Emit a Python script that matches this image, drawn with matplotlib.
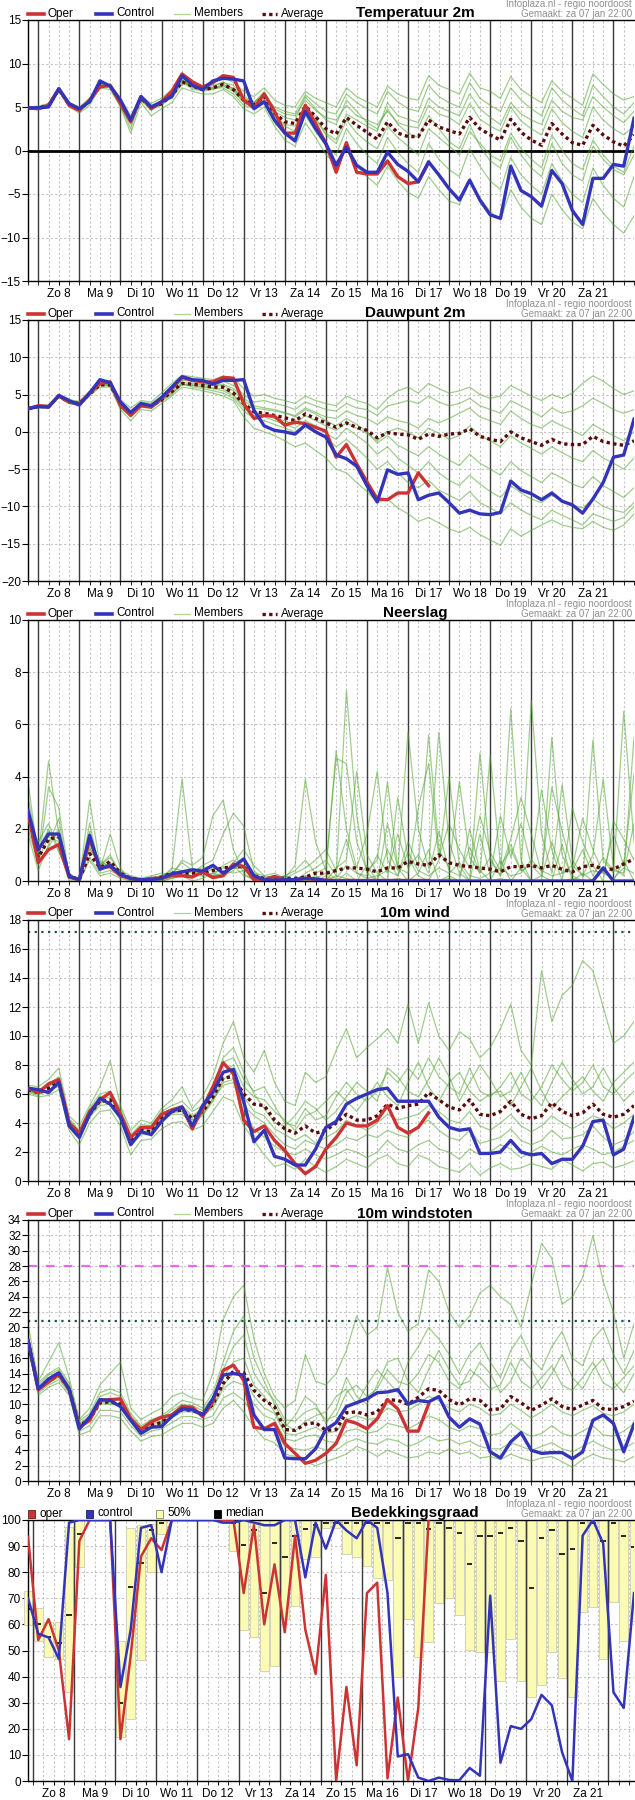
import numpy as np
import matplotlib.pyplot as plt
from matplotlib.lines import Line2D
from matplotlib.patches import Rectangle

plt.rcParams['font.family'] = ['Liberation Sans Narrow', 'Liberation Sans', 'DejaVu Sans']

W, H = 635, 1800
days = ['Zo 8', 'Ma 9', 'Di 10', 'Wo 11', 'Do 12', 'Vr 13', 'Za 14',
        'Zo 15', 'Ma 16', 'Di 17', 'Wo 18', 'Do 19', 'Vr 20', 'Za 21']
hours = np.arange(60) * 6

# ---- Temperatuur 2m
t_oper = [4.9,4.8,5.2,7.1,5.2,4.6,5.8,7.3,7.5,5.4, 3.3,6.2,4.8,5.6,6.8,8.8,7.9,7.3,7.8,8.6,
          8.4,5.8,4.9,6.5,4.5,2.0,2.0,5.2,3.1,0.8, -2.5,0.9,-2.5,-2.7,-2.7,-1.2,-3.0,-3.8,-3.6,-1.4]
t_ctrl = [4.9,4.9,5.0,7.1,5.4,4.8,5.6,8.0,7.4,5.8, 3.5,6.2,5.0,5.6,6.2,8.6,7.5,7.0,8.0,8.3,
          8.2,8.0,4.8,5.6,3.5,2.0,1.1,4.5,2.5,0.8, -1.7,0.4,-1.7,-2.5,-2.5,-0.2,-1.6,-2.4,-3.6,-1.3,
          -2.8,-4.4,-5.7,-3.4,-5.7,-7.4,-7.8,-1.8,-4.6,-5.3, -6.4,-2.3,-3.8,-6.9,-8.5,-3.2,-3.2,-1.6,-1.8,3.7]
t_avg = [4.9,4.9,5.2,7.0,5.3,4.7,5.7,7.6,7.4,5.6, 3.4,6.0,4.9,5.4,6.3,7.9,7.4,7.0,7.2,7.6,
         7.0,5.8,5.2,6.2,4.3,3.3,3.1,5.1,3.9,2.5, 1.9,3.8,2.9,2.1,1.3,3.3,2.0,1.6,1.6,3.5,
         2.7,2.3,1.9,3.8,2.5,1.8,1.2,3.6,2.1,1.2, 0.6,3.1,1.9,0.9,0.6,2.9,1.8,1.0,0.5,1.8]
t_mem = [
    [5.0,5.1,5.4,7.2,5.5,5.0,6.0,7.8,7.6,6.0, 4.0,6.3,5.4,6.0,7.0,8.8,7.9,7.4,7.8,8.5,
     7.8,6.8,6.2,7.2,5.8,5.2,5.0,6.8,6.0,5.5, 5.0,7.2,6.2,5.6,5.0,7.4,6.5,6.0,5.8,8.6,
     7.5,7.0,6.5,8.9,7.2,6.8,6.0,8.5,7.0,6.2, 5.5,8.0,6.8,6.0,5.2,8.8,7.6,6.5,5.8,6.2],
    [4.8,4.7,5.0,6.8,5.0,4.3,5.2,7.2,7.0,5.0, 2.0,5.5,4.0,4.8,5.5,7.2,6.8,6.5,6.5,7.0,
     6.2,4.8,4.2,5.0,2.8,1.2,0.5,3.2,1.5,-0.5, -1.5,0.5,-1.8,-3.0,-4.0,-1.8,-3.5,-4.8,-5.5,-3.0,
     -4.5,-5.8,-6.2,-3.5,-5.5,-7.0,-8.0,-4.5,-6.5,-7.8, -8.5,-5.0,-6.8,-8.2,-9.0,-5.5,-7.2,-8.5,-9.5,-7.5],
    [4.9,5.0,5.3,7.1,5.2,4.6,5.8,8.0,7.3,5.4, 3.0,6.2,5.0,5.2,6.6,8.2,7.2,7.2,7.5,7.8,
     7.5,6.0,5.5,6.8,4.5,3.8,3.5,6.2,4.8,3.5, 3.0,5.8,4.5,3.2,2.5,4.8,3.0,2.0,1.5,4.0,
     2.5,1.0,0.2,3.0,0.5,-1.2,-2.0,1.5,-0.5,-2.0, -3.0,0.8,-1.5,-2.8,-3.5,0.5,-1.0,-2.2,-2.8,-0.5],
    [4.8,4.8,5.1,6.9,5.4,4.9,5.5,7.4,7.6,5.8, 3.8,5.8,4.6,5.6,6.0,7.6,7.5,6.8,7.0,7.4,
     6.8,5.5,5.0,5.8,3.8,2.8,2.2,4.8,3.5,2.0, 1.2,4.2,3.5,2.8,2.2,5.5,4.0,3.6,3.2,6.0,
     5.0,4.5,4.0,6.5,4.8,3.8,3.0,5.5,4.2,3.5, 3.0,5.8,4.5,3.8,3.5,6.2,5.0,4.0,3.2,4.5],
    [5.0,4.9,5.2,7.0,5.1,4.5,6.0,7.6,7.2,5.2, 2.5,6.0,5.2,5.5,6.8,8.0,7.0,6.9,7.2,7.2,
     6.5,5.2,4.8,5.5,3.2,2.0,1.5,4.0,2.2,0.5, -0.5,2.5,0.8,-0.5,-1.5,1.5,-0.2,-1.5,-2.5,0.8,
     -1.0,-2.2,-3.0,0.2,-1.8,-3.5,-4.5,-0.8,-2.8,-4.0, -5.0,-1.5,-3.5,-5.0,-6.0,-2.0,-4.0,-5.5,-6.5,-3.0],
    [4.9,5.0,5.2,7.2,5.3,4.8,5.6,7.5,7.5,5.7, 3.6,6.1,4.8,5.2,6.2,7.8,7.5,7.1,7.2,7.5,
     7.2,5.9,5.4,6.5,4.8,4.2,4.0,5.8,4.6,3.8, 3.5,5.2,4.0,3.5,3.0,4.5,3.2,2.8,2.6,5.2,
     4.2,3.8,3.0,5.4,3.6,2.8,2.2,5.0,3.4,2.5, 1.8,4.8,3.2,2.2,1.5,5.0,3.5,2.5,1.8,2.8],
    [4.8,4.9,5.3,7.1,5.4,4.7,5.9,7.9,7.4,5.5, 3.2,6.0,4.9,5.4,6.4,8.4,7.6,7.0,7.3,7.9,
     7.0,5.6,4.9,6.0,4.0,3.0,2.8,5.2,3.8,1.8, 0.8,3.5,2.0,1.0,0.2,2.8,1.5,0.5,-0.5,2.5,
     1.5,0.5,-0.5,2.2,0.8,-0.5,-1.2,2.0,0.2,-1.0, -2.0,1.8,0.0,-1.5,-2.2,1.2,-0.5,-1.8,-2.5,0.5],
    [4.9,4.8,5.1,7.0,5.2,4.6,5.6,7.7,7.3,5.5, 3.4,5.9,5.0,5.3,6.3,8.1,7.3,7.0,7.1,7.6,
     6.9,6.2,5.6,6.4,5.0,4.5,4.2,6.4,5.4,4.5, 4.2,6.5,5.5,4.8,4.2,6.8,5.6,4.8,4.5,7.5,
     6.2,5.5,5.0,7.8,6.0,5.2,4.5,7.2,5.8,4.8, 4.0,7.2,5.8,4.8,4.0,7.5,6.2,5.0,4.2,5.5],
]

# ---- Dauwpunt 2m
d_oper = [3.1,3.5,3.4,4.8,4.0,3.7,5.2,6.5,6.7,3.5, 2.2,3.5,3.3,4.5,5.8,7.3,6.9,6.7,6.7,7.3,
          7.2,3.8,1.8,2.2,2.1,0.9,1.3,1.1,0.6,0.1, -3.4,-1.7,-4.3,-6.7,-9.0,-9.1,-8.2,-8.2,-5.5,-7.2]
d_ctrl = [3.1,3.4,3.3,4.9,4.2,3.6,5.2,7.0,6.6,4.0, 2.6,3.8,3.5,4.6,6.0,7.4,7.0,6.9,6.4,6.9,
          6.9,7.0,2.9,0.8,0.2,0.0,-0.3,0.9,0.0,-0.7, -3.1,-3.6,-4.6,-7.2,-9.4,-5.1,-5.7,-5.5,-9.1,-8.5,
          -8.2,-9.5,-10.9,-10.5,-11.0,-11.1,-10.8,-6.6,-7.8,-8.3, -9.1,-8.2,-9.3,-9.8,-10.9,-9.0,-6.8,-3.4,-3.1,1.7]
d_avg = [3.1,3.4,3.4,4.8,4.0,3.8,5.1,6.3,6.3,3.8, 2.4,3.6,3.4,4.3,5.4,6.5,6.4,6.2,6.0,6.0,
         5.2,3.8,2.7,2.5,2.2,1.9,1.5,2.4,1.8,1.2, 0.6,1.2,0.6,0.2,-0.8,-0.1,-0.3,-0.4,-1.0,-0.3,
         -0.6,-0.3,-0.2,0.4,-0.6,-1.0,-1.3,0.0,-0.8,-1.3, -1.8,-1.0,-1.6,-1.7,-1.7,-0.6,-1.3,-1.6,-1.8,-1.2]
d_mem = [
    [3.2,3.6,3.6,5.0,4.3,4.1,5.5,6.8,6.6,4.3, 3.2,4.2,4.0,5.2,6.5,7.6,7.4,7.2,7.0,7.5,
     7.2,5.8,4.8,5.0,4.5,4.2,3.8,4.8,4.2,3.8, 3.5,4.8,4.2,3.8,3.0,4.5,5.5,6.0,5.2,6.5,
     5.8,5.2,5.5,6.0,5.0,4.5,4.8,6.2,5.5,4.8, 4.2,5.0,4.5,5.2,6.5,7.5,6.8,5.8,5.0,5.5],
    [3.0,3.2,3.2,4.6,3.8,3.5,4.8,6.0,6.0,3.0, 1.5,3.0,2.8,3.8,4.8,6.0,5.8,5.5,5.2,4.8,
     4.2,2.0,0.5,0.0,-0.5,-1.2,-2.0,-1.5,-2.5,-3.5, -5.0,-5.5,-6.8,-8.0,-9.5,-9.0,-10.2,-11.0,-12.0,-11.5,
     -12.2,-13.0,-13.5,-12.8,-13.8,-14.5,-15.2,-13.0,-14.0,-13.2, -12.5,-11.8,-12.5,-12.8,-13.0,-12.0,-12.8,-13.2,-12.5,-11.0],
    [3.1,3.4,3.5,4.9,4.1,3.9,5.2,6.4,6.5,4.0, 2.6,3.8,3.6,4.6,5.8,6.9,6.8,6.4,6.3,6.4,
     5.8,4.5,3.5,3.2,3.0,2.6,2.0,3.0,2.4,1.5, 0.8,1.8,1.0,0.0,-1.5,-0.5,-1.8,-2.5,-3.2,-2.0,
     -3.0,-3.8,-4.5,-3.0,-4.2,-5.0,-5.8,-4.0,-5.2,-6.0, -6.8,-5.5,-6.2,-7.0,-7.5,-6.0,-7.2,-8.0,-8.8,-7.5],
    [3.0,3.3,3.3,4.7,3.9,3.7,5.0,6.2,6.2,3.6, 2.2,3.5,3.2,4.2,5.2,6.3,6.2,6.0,5.8,5.5,
     4.8,3.2,2.2,2.0,1.5,1.0,0.5,1.5,0.8,-0.2, -1.0,0.5,-0.5,-1.5,-3.0,-2.0,-3.5,-4.5,-5.5,-4.0,
     -5.5,-6.5,-7.2,-5.8,-7.0,-8.0,-8.8,-7.2,-8.2,-9.0, -9.5,-8.5,-9.2,-9.8,-10.2,-9.0,-10.0,-10.5,-10.8,-9.5],
    [3.2,3.5,3.4,4.8,4.1,3.9,5.1,6.5,6.4,3.9, 2.5,3.7,3.5,4.4,5.6,6.6,6.5,6.3,6.2,6.2,
     5.5,4.2,3.2,3.0,2.8,2.5,2.2,3.2,2.6,2.0, 1.8,2.8,2.2,1.8,1.0,2.0,1.5,1.2,0.5,1.8,
     1.2,1.8,2.5,3.2,2.0,1.5,1.0,2.8,1.8,1.0, 0.5,1.5,0.8,0.2,-0.5,1.0,0.2,-0.5,-1.2,0.0],
    [3.1,3.3,3.4,4.8,4.0,3.8,5.0,6.3,6.3,3.7, 2.3,3.6,3.4,4.3,5.3,6.4,6.3,6.1,5.9,5.8,
     5.0,3.5,2.5,2.2,1.8,1.5,1.0,2.2,1.5,0.8, 0.2,1.2,0.5,-0.2,-1.2,0.0,0.5,0.0,-0.8,0.5,
     -0.2,-1.0,-0.5,0.8,-0.5,-1.2,-2.0,-0.5,-1.5,-2.2, -3.0,-2.0,-2.8,-3.5,-4.0,-2.5,-3.5,-4.2,-5.0,-3.5],
    [3.0,3.4,3.3,4.9,3.9,3.6,5.2,6.6,6.1,3.5, 2.0,3.4,3.3,4.1,5.0,6.5,6.0,5.8,5.5,5.2,
     4.5,2.8,1.8,1.5,1.0,0.5,0.0,1.0,0.2,-0.8, -2.0,-1.0,-2.2,-3.5,-5.0,-4.0,-5.5,-6.8,-7.5,-6.5,
     -7.8,-8.5,-9.2,-8.0,-9.5,-10.2,-11.0,-9.5,-10.5,-11.2, -11.8,-10.5,-11.2,-11.8,-12.5,-11.0,-11.5,-12.0,-11.5,-10.0],
    [3.2,3.5,3.5,4.9,4.2,4.0,5.3,6.6,6.5,4.1, 2.8,4.0,3.8,4.8,6.0,7.2,7.0,6.8,6.6,6.8,
     6.2,5.0,4.0,4.2,3.8,3.5,3.0,4.0,3.5,3.0, 2.8,3.8,3.2,3.0,2.2,3.5,3.8,4.2,3.8,4.8,
     4.0,3.5,3.8,4.5,3.5,3.0,2.5,4.2,3.5,2.8, 2.0,3.2,2.5,2.8,3.5,4.5,3.8,3.0,2.5,3.0],
]

# ---- Neerslag
p_oper = [2.6,0.7,1.2,1.4,0.15,0.05,1.6,0.5,0.55,0.2, 0.1,0.03,0.1,0.1,0.2,0.2,0.15,0.35,0.13,0.2,
          0.65,0.55,0.05,0.05,0.18,0.05,0.05,0.1,0.05,0.03, 0.02,0.02,0.02,0.02,0.02,0.02,0.02,0.02,0.02,0.02]
p_ctrl = [2.7,1.2,1.8,1.8,0.18,0.05,1.75,0.45,0.6,0.25, 0.1,0.05,0.05,0.1,0.28,0.35,0.43,0.38,0.6,0.3,
          0.55,0.85,0.2,0.05,0.03,0.05,0.05,0.1,0.08,0.02, 0,0,0,0,0,0,0,0,0,0,
          0,0,0,0,0,0,0,0,0,0, 0,0,0,0,0,0,0.5,0,0,0]
p_avg = [2.5,0.9,1.6,1.7,0.2,0.05,1.05,0.5,0.75,0.3, 0.1,0.05,0.08,0.15,0.3,0.3,0.3,0.3,0.4,0.5,
         0.55,0.55,0.2,0.1,0.12,0.1,0.1,0.15,0.3,0.3, 0.4,0.5,0.5,0.45,0.35,0.5,0.5,0.75,0.65,0.6,
         1.0,0.7,0.6,0.55,0.5,0.45,0.35,0.55,0.55,0.6, 0.5,0.6,0.45,0.35,0.55,0.6,0.45,0.45,0.65,0.85]
p_mem = [
    [3.8,0.9,4.6,1.8,0.3,0.0,3.1,0.6,1.0,0.3, 0.1,0.0,0.1,0.2,0.4,3.9,0.5,0.3,0.2,0.6,
     0.8,0.6,0.1,0.0,0.1,0.2,0.0,0.3,0.5,0.8, 0.2,7.3,2.5,0.3,0.0,1.2,0.4,5.7,2.0,0.5,
     5.7,1.5,0.3,0.0,4.9,0.8,0.2,6.6,0.8,0.0, 0.0,5.5,1.0,0.2,0.0,5.4,0.8,0.3,6.5,1.5],
    [2.8,0.6,3.6,2.8,0.2,0.0,2.2,0.4,1.8,0.5, 0.0,0.1,0.2,0.3,0.2,0.8,0.6,0.9,2.5,3.1,
     1.2,0.3,0.0,0.1,0.0,0.1,0.6,3.9,1.5,0.4, 5.0,2.0,0.5,1.8,4.2,0.8,0.2,1.5,0.6,5.6,
     1.2,0.5,3.8,0.9,0.3,4.8,0.6,1.2,0.4,6.9, 1.8,0.3,3.7,0.8,0.2,1.0,3.9,0.5,0.2,5.5],
    [2.2,1.5,2.2,1.2,0.1,0.1,1.5,0.8,0.5,0.2, 0.1,0.0,0.0,0.1,0.5,0.4,0.3,0.6,0.8,1.8,
     2.6,2.1,0.4,0.0,0.2,0.0,0.1,0.0,0.2,0.0, 0.5,0.8,4.2,1.0,0.3,0.0,3.2,0.9,0.2,0.0,
     0.8,4.0,0.6,0.0,1.8,0.2,2.5,0.9,2.2,0.6, 3.5,1.2,0.0,2.8,1.5,0.6,0.0,2.3,1.6,0.8],
    [1.8,0.4,1.4,2.4,0.0,0.0,0.8,0.2,0.3,0.1, 0.0,0.0,0.0,0.0,0.1,0.2,0.0,0.1,0.3,0.2,
     0.4,0.8,0.2,0.0,0.0,0.0,0.0,0.1,0.0,0.2, 0.0,0.3,0.0,0.6,0.0,2.2,0.5,0.0,0.3,1.2,
     0.0,0.2,0.0,2.0,0.4,0.0,0.8,0.0,0.5,0.0, 0.2,0.0,1.4,0.0,0.3,0.0,0.5,0.0,0.8,0.0],
    [3.2,1.1,1.9,1.6,0.2,0.1,1.2,0.7,0.6,0.4, 0.2,0.1,0.1,0.2,0.3,0.2,0.4,0.2,0.5,0.4,
     0.3,0.4,0.3,0.2,0.3,0.1,0.3,0.5,0.8,1.2, 0.4,1.6,0.3,0.2,1.0,0.3,1.8,0.5,1.0,0.3,
     1.9,0.4,0.2,1.3,0.3,0.9,0.2,1.4,0.4,0.6, 0.2,1.5,0.3,0.4,1.2,0.2,0.9,0.4,0.3,2.2],
    [2.6,0.8,1.7,1.5,0.1,0.0,1.3,0.5,0.7,0.2, 0.0,0.0,0.1,0.1,0.2,0.3,0.2,0.2,0.3,0.5,
     0.5,0.5,0.1,0.1,0.0,0.0,0.0,0.0,0.1,0.0, 0.2,0.1,0.0,0.0,0.0,0.0,0.1,0.0,0.0,0.0,
     0.0,0.1,0.0,0.0,0.0,0.0,0.1,0.0,0.0,0.0, 0.0,0.0,0.0,0.1,0.0,0.0,0.0,0.0,0.0,0.0],
    [2.0,0.7,1.3,2.0,0.3,0.0,0.9,0.3,0.4,0.2, 0.1,0.0,0.0,0.1,0.3,0.7,0.4,0.5,0.6,0.3,
     0.7,1.2,0.6,0.2,0.0,0.2,0.4,0.8,0.3,0.5, 4.7,4.5,1.5,0.4,0.8,3.8,0.5,0.3,2.8,4.5,
     0.9,2.2,1.2,0.5,2.5,1.1,0.4,1.6,3.2,1.8, 0.3,3.6,1.9,0.5,2.4,1.2,0.3,1.8,0.6,4.1],
    [2.4,1.2,2.0,1.1,0.2,0.1,1.9,0.6,0.9,0.3, 0.1,0.0,0.1,0.0,0.1,0.2,0.2,0.4,0.2,0.3,
     0.6,0.2,0.1,0.0,0.1,0.0,0.1,0.2,0.1,0.3, 0.1,0.6,0.3,0.1,0.2,0.4,0.2,1.1,0.4,0.2,
     0.5,0.3,0.7,0.2,0.1,0.3,0.5,0.2,0.3,0.8, 0.4,0.2,0.3,0.6,0.2,0.4,0.3,0.1,0.5,0.3],
]

# ---- 10m wind
w_oper = [6.4,6.1,6.7,7.0,4.0,3.3,4.8,5.6,6.1,4.6, 3.0,3.7,3.7,4.6,4.9,5.1,3.6,5.0,6.5,8.15,
          7.4,4.2,3.4,3.8,2.8,2.1,1.2,0.5,1.0,2.2, 3.0,4.0,3.8,3.8,4.2,5.2,3.7,3.3,3.7,4.7]
w_ctrl = [6.4,6.3,6.1,6.8,3.8,3.0,4.6,5.7,5.3,4.4, 2.5,3.4,3.2,4.1,4.8,5.1,3.8,5.2,6.1,7.5,
          7.7,5.5,2.7,3.5,1.7,1.5,1.1,1.1,2.2,3.7, 4.1,5.3,5.7,6.0,6.3,6.4,5.5,5.5,5.5,5.5,
          4.4,3.7,3.5,3.6,1.9,1.9,2.0,2.8,2.0,1.8, 1.9,1.2,1.5,1.5,2.4,4.1,4.2,1.8,2.2,4.4]
w_avg = [6.3,6.1,6.4,6.8,4.0,3.2,4.6,5.5,5.6,4.5, 2.8,3.5,3.4,4.4,4.8,4.9,4.3,4.8,5.8,7.1,
         7.2,6.0,5.3,5.2,4.2,3.6,3.3,3.8,3.3,3.5, 4.0,4.6,4.2,4.2,4.5,5.3,5.0,5.2,5.3,6.1,
         5.6,5.1,4.9,5.6,4.6,4.5,4.8,5.5,4.6,4.3, 4.5,5.4,4.8,4.5,4.7,5.3,4.6,4.4,4.6,5.2]
w_mem = [
    [6.6,6.5,7.0,7.8,4.5,3.8,5.2,6.5,8.3,5.2, 3.5,4.2,4.0,5.0,5.6,6.5,5.0,5.8,7.2,9.5,
     11.0,8.5,7.5,9.0,6.8,5.5,5.2,7.5,6.8,7.2, 9.0,10.5,8.5,9.2,9.8,10.5,9.5,12.2,9.5,12.3,
     10.0,9.0,10.3,9.8,8.5,9.2,10.5,12.2,9.0,8.0, 14.5,11.0,12.8,13.5,15.2,14.5,12.0,9.5,10.0,11.0],
    [6.0,5.8,5.9,6.3,3.5,2.5,4.0,4.8,4.9,3.8, 1.8,2.8,2.9,3.6,4.0,4.1,3.5,3.8,4.8,5.8,
     5.5,3.8,2.8,1.8,1.0,1.2,0.8,1.5,1.0,0.6, 1.0,1.5,1.2,0.9,1.5,1.8,1.2,1.0,1.8,1.5,
     1.0,0.8,0.6,1.2,0.4,0.9,1.2,0.8,0.9,1.2, 1.0,0.8,1.5,1.1,0.7,1.2,1.3,0.9,1.1,1.4],
    [6.4,6.2,6.6,7.0,4.2,3.4,4.8,5.8,6.0,4.8, 3.0,3.7,3.5,4.6,5.0,5.2,4.5,5.0,6.2,8.2,
     8.5,7.0,6.2,6.5,5.2,4.0,3.8,5.0,4.2,4.5, 5.8,6.8,6.0,5.5,6.2,7.5,6.8,7.8,7.0,8.5,
     7.2,6.5,6.0,7.8,6.2,5.8,6.5,7.5,6.0,5.5, 6.5,8.0,7.0,6.2,6.8,8.0,6.5,6.0,6.8,7.5],
    [6.2,6.0,6.2,6.6,3.8,3.0,4.4,5.2,5.3,4.2, 2.5,3.2,3.2,4.2,4.6,4.6,4.0,4.5,5.5,6.8,
     7.0,5.2,4.5,4.0,3.2,2.5,2.2,2.8,2.5,2.2, 2.5,3.0,2.8,3.2,3.0,3.5,3.2,3.0,3.8,4.2,
     3.5,3.0,2.8,3.5,2.6,2.8,3.0,3.6,2.8,2.5, 2.8,3.5,2.9,3.0,3.2,3.8,3.0,2.5,2.8,3.4],
    [6.3,6.2,6.5,6.9,4.1,3.3,4.6,5.6,5.8,4.6, 2.9,3.6,3.4,4.5,4.9,5.0,4.4,4.9,6.0,7.5,
     8.0,6.5,5.8,5.6,4.8,4.2,3.5,4.5,4.8,5.5, 6.2,5.5,4.8,5.8,6.8,5.8,5.2,6.8,8.2,6.5,
     5.5,6.8,7.5,6.2,5.5,6.0,6.2,5.2,6.5,7.8, 6.2,5.0,5.8,6.5,7.2,6.2,5.5,6.8,7.5,8.2],
    [6.1,5.9,6.3,6.7,3.9,3.1,4.5,5.4,5.5,4.4, 2.7,3.4,3.3,4.3,4.7,4.8,4.2,4.7,5.7,7.0,
     7.5,5.8,4.8,4.5,3.6,3.2,2.8,3.2,2.6,3.0, 3.4,4.2,3.8,3.5,4.0,4.6,4.2,4.4,4.6,5.2,
     4.8,4.2,4.0,4.8,3.8,3.5,4.0,4.6,3.8,3.4, 3.8,4.5,4.0,3.6,4.0,4.5,4.2,3.6,4.0,4.6],
    [6.5,6.3,6.6,7.2,4.3,3.5,5.0,6.0,6.2,5.0, 3.2,3.9,3.8,4.8,5.2,5.5,4.8,5.2,6.5,8.5,
     9.2,7.5,6.0,5.0,4.0,3.8,4.5,5.5,5.0,4.2, 4.8,5.8,6.8,6.2,5.5,7.8,7.2,6.2,5.8,7.0,
     8.5,7.2,5.5,6.8,8.0,7.0,5.8,6.2,7.5,6.0, 5.2,6.8,8.2,7.0,6.0,6.5,7.8,6.5,5.5,6.2],
    [6.2,6.0,6.3,6.5,3.9,3.0,4.5,5.5,5.4,4.3, 2.6,3.4,3.3,4.4,4.8,4.8,4.2,4.6,5.6,6.6,
     6.8,4.8,3.6,3.0,2.4,2.0,1.8,2.2,1.8,1.5, 1.8,2.2,2.0,1.6,2.0,2.8,2.2,2.0,2.5,2.8,
     2.2,2.0,1.5,2.2,1.8,2.0,2.5,2.2,1.6,2.0, 2.4,2.0,1.8,2.2,2.5,2.2,1.8,2.0,2.4,2.8],
]

# ---- 10m windstoten
g_oper = [18.3,11.9,12.9,13.9,11.9,7.0,7.9,10.5,10.6,10.7, 8.1,6.7,7.7,8.3,8.6,9.7,9.6,8.4,10.3,14.4,
          15.1,13.1,7.0,6.8,7.5,4.9,3.6,2.3,2.7,3.6, 4.9,7.9,7.5,6.8,8.1,10.6,9.4,6.5,6.5,10.0]
g_ctrl = [18.3,12.0,13.3,14.1,12.0,6.8,8.3,10.6,10.5,9.7, 7.9,6.2,7.0,7.1,8.4,9.4,9.3,8.6,10.7,13.8,
          14.0,13.8,8.6,6.7,6.7,3.0,2.9,2.9,4.2,6.7, 7.6,9.7,10.2,10.7,11.5,11.6,11.9,10.0,10.5,10.3,
          11.0,8.3,7.0,8.1,7.4,3.8,3.0,5.1,6.3,4.0, 3.6,3.7,3.7,2.9,3.8,7.9,8.6,7.5,3.8,7.4]
g_avg = [18.3,12.0,13.0,13.8,12.0,7.2,8.0,10.2,10.3,10.0, 8.0,6.6,7.3,7.6,8.5,9.3,9.2,8.7,10.0,12.7,
         14.3,14.1,11.8,10.5,9.7,6.7,6.6,7.4,7.6,6.6, 6.7,8.9,9.0,8.6,9.0,10.6,10.5,10.0,10.9,12.0,
         11.8,10.6,9.9,10.7,10.5,9.3,9.4,11.0,10.2,9.2, 9.9,10.7,9.7,9.3,9.9,10.5,9.4,9.3,9.7,10.4]
g_mem = [
    [20.5,13.0,15.5,18.0,13.5,8.0,9.5,12.5,14.0,15.5, 9.5,8.0,8.8,9.5,11.0,11.5,10.8,10.5,14.0,21.0,
     24.0,25.5,18.5,14.0,11.0,9.5,10.5,16.5,13.0,12.5, 14.0,17.0,21.5,19.0,20.0,27.8,22.0,19.5,20.5,27.5,
     26.0,22.0,20.0,21.5,24.5,25.5,24.0,23.0,20.0,25.5, 31.0,29.0,23.0,24.0,26.5,32.0,26.0,22.0,16.0,20.5],
    [17.5,11.2,12.2,12.8,11.2,6.0,6.5,8.5,8.5,8.2, 6.5,5.2,5.8,6.0,6.8,7.5,7.5,7.0,7.5,9.5,
     10.5,9.0,7.0,5.5,5.0,3.5,3.2,2.5,2.0,2.5, 3.0,3.5,4.5,4.0,3.2,4.0,3.5,3.0,3.2,3.8,
     3.5,4.2,3.5,3.8,3.0,3.2,2.8,3.5,3.0,2.6, 3.0,3.2,2.5,1.8,2.8,3.5,3.0,2.8,2.5,3.2],
    [18.8,12.5,13.8,14.5,12.5,7.5,8.5,11.0,11.5,11.0, 8.5,7.0,7.8,8.2,9.2,10.0,9.8,9.2,11.0,14.5,
     17.5,19.0,14.0,12.0,10.5,8.0,7.8,9.0,9.5,8.0, 8.5,11.5,12.5,11.0,12.0,14.5,13.0,12.5,14.0,16.5,
     15.5,13.0,12.0,14.5,13.5,12.0,12.5,15.5,13.0,12.0, 13.5,15.0,12.5,11.8,13.5,15.5,12.8,12.0,13.5,15.0],
    [18.0,11.8,12.8,13.5,11.8,7.0,7.8,10.0,10.0,9.8, 7.8,6.4,7.0,7.4,8.2,9.0,9.0,8.5,9.5,12.0,
     13.0,12.5,10.0,8.5,8.0,5.5,5.2,5.8,6.0,5.2, 5.0,6.5,6.8,6.2,6.5,7.5,7.2,6.8,7.5,8.5,
     8.0,7.0,6.5,7.2,6.8,6.0,6.2,7.5,6.5,5.8, 6.2,7.2,6.2,5.8,6.5,7.2,6.0,5.8,6.5,7.5],
    [18.5,12.2,13.2,14.0,12.2,7.3,8.2,10.5,10.8,10.5, 8.2,6.8,7.5,7.8,8.8,9.5,9.4,8.9,10.5,13.5,
     15.5,16.0,12.5,11.0,9.0,7.0,8.5,11.0,10.0,7.5, 9.5,13.5,11.0,10.0,12.5,15.5,16.0,13.0,11.5,14.5,
     17.0,14.5,12.5,13.0,15.5,14.0,11.5,13.0,16.0,14.5, 12.0,14.0,16.5,13.5,12.0,14.5,16.0,13.0,11.5,14.0],
    [18.2,11.9,12.9,13.7,12.0,7.1,7.9,10.2,10.2,10.0, 8.0,6.6,7.3,7.6,8.5,9.2,9.1,8.6,9.8,12.5,
     14.0,13.5,11.0,9.5,8.8,6.2,6.0,6.5,7.0,6.2, 6.5,8.0,8.5,8.0,8.2,9.5,9.0,9.2,10.0,11.0,
     10.5,9.5,9.0,10.0,9.5,8.5,8.8,10.0,9.2,8.2, 9.0,10.0,9.0,8.5,9.2,9.8,8.8,8.5,9.0,10.0],
    [19.0,12.8,14.0,14.8,12.8,7.8,8.8,11.5,12.0,11.5, 8.8,7.2,8.0,8.5,9.5,10.5,10.2,9.5,11.5,15.5,
     19.5,21.5,16.0,13.0,10.0,7.5,6.5,7.8,8.5,9.0, 11.0,12.0,10.0,12.5,14.5,13.0,11.5,15.5,17.5,20.0,
     18.5,16.5,14.0,16.5,18.0,15.5,13.5,17.0,19.0,16.0, 14.5,17.5,19.5,16.0,15.0,18.5,20.0,16.5,14.0,17.0],
    [17.8,11.5,12.5,13.2,11.5,6.5,7.2,9.2,9.2,9.0, 7.2,5.8,6.5,6.8,7.6,8.4,8.4,8.0,8.5,10.8,
     11.5,10.5,8.5,7.0,6.5,4.5,4.2,4.0,4.5,4.0, 4.0,5.0,5.5,5.0,4.8,5.5,5.2,4.5,5.0,5.8,
     5.2,5.5,4.8,5.2,4.5,4.2,4.2,5.0,4.5,4.0, 4.5,5.0,4.2,3.8,4.5,5.2,4.5,4.0,4.2,5.0],
]

# ---- Bedekkingsgraad
c_oper = [93.6,54,62,50,16,92,100,100,100,16, 48,86,93,88.5,100,100,100,100,100,100,
          100,72,98,60,83,57,94,58,41,79, 0,36,6,72,76,1,32,0,28,100]
c_ctrl = [70,56.4,55,46.8,99,100,100,100,100,36, 58,97,98,80,100,100,100,100,100,99,
          99,100,99,98,98,100,100,78,99,89, 100,96,93,100,97,72,9.4,10.3,1.3,0,
          1.3,0.4,0.3,5,2,71,7,21,20,23.7, 33,29,11,0,94,100,91,34,28,72]
c_p75 = [72.7,66.3,61,61,97.4,100,100,100,100,53.8, 96.8,98,98.5,100,100,100,100,100,100,100] + [100] * 40
c_p25 = [59.6,53.8,47.6,46.8,34.2,82,100,100,100,16.7, 23.7,46.2,80,94.5,100,100,100,100,100,99,
         88,58,55,42,44,62,67,85,86,97, 97,87,86,82.4,77.6,77,40,62,47.5,53.3,
         68.3,70,63.5,50.3,49.6,49.5,38.5,54.5,38.5,32, 36.8,49.6,39.4,32,64.7,66.7,46.8,68.6,53.5,61.2]
c_med = [65.8,60.3,55,53,63.7,94.5,100,100,100,30, 74.5,83.7,96,99,100,100,100,100,100,100,
         99,90.4,96,72.2,91,86,94,96.4,98,99, 99,99,99,99,99,99,93,99,99,96.4,
         99,96.8,94.9,83,93.8,93.8,94.9,96.8,91.9,74, 93,96.2,86.8,88.7,99,99,91.9,99,93.8,89.7]

RED, BLUE, AVG, MEM = '#cc3333', '#3434bb', '#5a0c0c', '#52a531'

fig = plt.figure(figsize=(W / 100, H / 100), dpi=100)


def fx(x):
    return x / W


def fy(y):
    return 1 - y / H


def header(top, title, cloud=False):
    yc = top + 13.5
    if cloud:
        items = [(28, 'oper', RED, '#602020'), (86, 'control', BLUE, '#202060'),
                 (156, '50%', '#ffffb0', '#808080'), (214, 'median', 'black', 'black')]
        for x0, txt, fc, ec in items:
            fig.add_artist(Rectangle((fx(x0), fy(yc + 4)), 7 / W, 8 / H, transform=fig.transFigure,
                                     facecolor=fc, edgecolor=ec, lw=0.6))
            fig.text(fx(x0 + 11), fy(yc), txt, fontsize=8.5, va='center', ha='left')
    else:
        handles = [(28, 44, 'Oper', dict(color=RED, lw=2.6)),
                   (96, 112, 'Control', dict(color=BLUE, lw=2.6)),
                   (174, 190, 'Members', dict(color='#a8d498', lw=0.9)),
                   (262, 277, 'Average', dict(color=AVG, lw=2.4, ls=(0, (1, 1))))]
        for x0, x1, txt, kw in handles:
            fig.add_artist(Line2D([fx(x0), fx(x1)], [fy(yc), fy(yc)], transform=fig.transFigure, **kw))
            fig.text(fx(x1 + 4), fy(yc), txt, fontsize=8.5, va='center', ha='left')
    fig.text(fx(415), fy(yc), title, fontsize=11, fontweight='bold', ha='center', va='center')
    fig.text(fx(632), fy(top + 4), 'Infoplaza.nl - regio noordoost', fontsize=7,
             color='#909090', ha='right', va='center')
    fig.text(fx(632), fy(top + 14), 'Gemaakt: za 07 jan 22:00', fontsize=7,
             color='#909090', ha='right', va='center')


def make_axes(top, ymin, ymax, ystep, day_off):
    ax = fig.add_axes([fx(28), fy(top + 281), 606 / W, 261 / H])
    ax.set_xlim(0, 354)
    ax.set_ylim(ymin, ymax)
    grid_x = np.arange(day_off % 6, 355, 6)
    for h in grid_x:
        ax.axvline(h, color='#c4c4c4', lw=0.8, ls=(0, (2, 2)), zorder=0.5)
    for d in range(15):
        ax.axvline(day_off + 24 * d, color='#3c3c3c', lw=1.0, zorder=1.5)
    ax.set_yticks(np.arange(ymin, ymax + 0.01, ystep))
    ax.grid(axis='y', color='#c4c4c4', lw=0.8, ls=(0, (2, 2)), zorder=0.5)
    ax.set_axisbelow(True)
    ax.set_xticks(day_off + 12 + 24 * np.arange(14))
    ax.set_xticklabels(days)
    ax.set_xticks(grid_x, minor=True)
    ax.tick_params(axis='x', which='both', length=3, labelsize=8.5, pad=2)
    ax.tick_params(axis='y', length=4, labelsize=8.5, pad=1)
    ax.spines['right'].set_visible(False)
    for s in ['left', 'bottom', 'top']:
        ax.spines[s].set_linewidth(1.0)
    return ax


def line_panel(i, title, mem, avg, oper, ctrl, ymin, ymax, ystep):
    top = 300 * i
    header(top, title)
    ax = make_axes(top, ymin, ymax, ystep, 6)
    for m in mem:
        ax.plot(hours, m, color=MEM, lw=0.9, alpha=0.55, zorder=2)
    ax.plot(hours, avg, color=AVG, lw=2.4, ls=(0, (1, 1)), zorder=3)
    ax.plot(hours[:len(oper)], oper, color=RED, lw=2.4, zorder=4)
    ax.plot(hours, ctrl, color=BLUE, lw=2.4, zorder=5)
    return ax


ax = line_panel(0, 'Temperatuur 2m', t_mem, t_avg, t_oper, t_ctrl, -15, 15, 5)
ax.axhline(0, color='black', lw=2, zorder=1.8)
line_panel(1, 'Dauwpunt 2m', d_mem, d_avg, d_oper, d_ctrl, -20, 15, 5)
line_panel(2, 'Neerslag', p_mem, p_avg, p_oper, p_ctrl, 0, 10, 2)
ax = line_panel(3, '10m wind', w_mem, w_avg, w_oper, w_ctrl, 0, 18, 2)
ax.axhline(17.2, color='#1f4f4f', lw=1.6, ls=(0, (1, 2)), zorder=1.8)
ax = line_panel(4, '10m windstoten', g_mem, g_avg, g_oper, g_ctrl, 0, 34, 2)
ax.axhline(28, color='#ee66ee', lw=1.6, ls=(0, (4, 4)), zorder=1.8)
ax.axhline(20.8, color='#1f4f4f', lw=1.6, ls=(0, (1, 2)), zorder=1.8)

# cloud cover panel
top = 1500
header(top, 'Bedekkingsgraad', cloud=True)
ax = make_axes(top, 0, 100, 10, 3)
p25 = np.array(c_p25)
p75 = np.array(c_p75)
ax.bar(hours, p75 - p25, bottom=p25, width=5.0, color='#fbfbb4', edgecolor='#cdcdb4',
       lw=0.6, zorder=1, clip_on=False)
ax.hlines(c_med, hours - 1.6, hours + 1.6, color='black', lw=1.2, zorder=1.6)
ax.plot(hours[:len(c_oper)], c_oper, color=RED, lw=1.8, zorder=4)
ax.plot(hours, c_ctrl, color=BLUE, lw=1.8, zorder=5)

fig.savefig('out.png', dpi=100)
